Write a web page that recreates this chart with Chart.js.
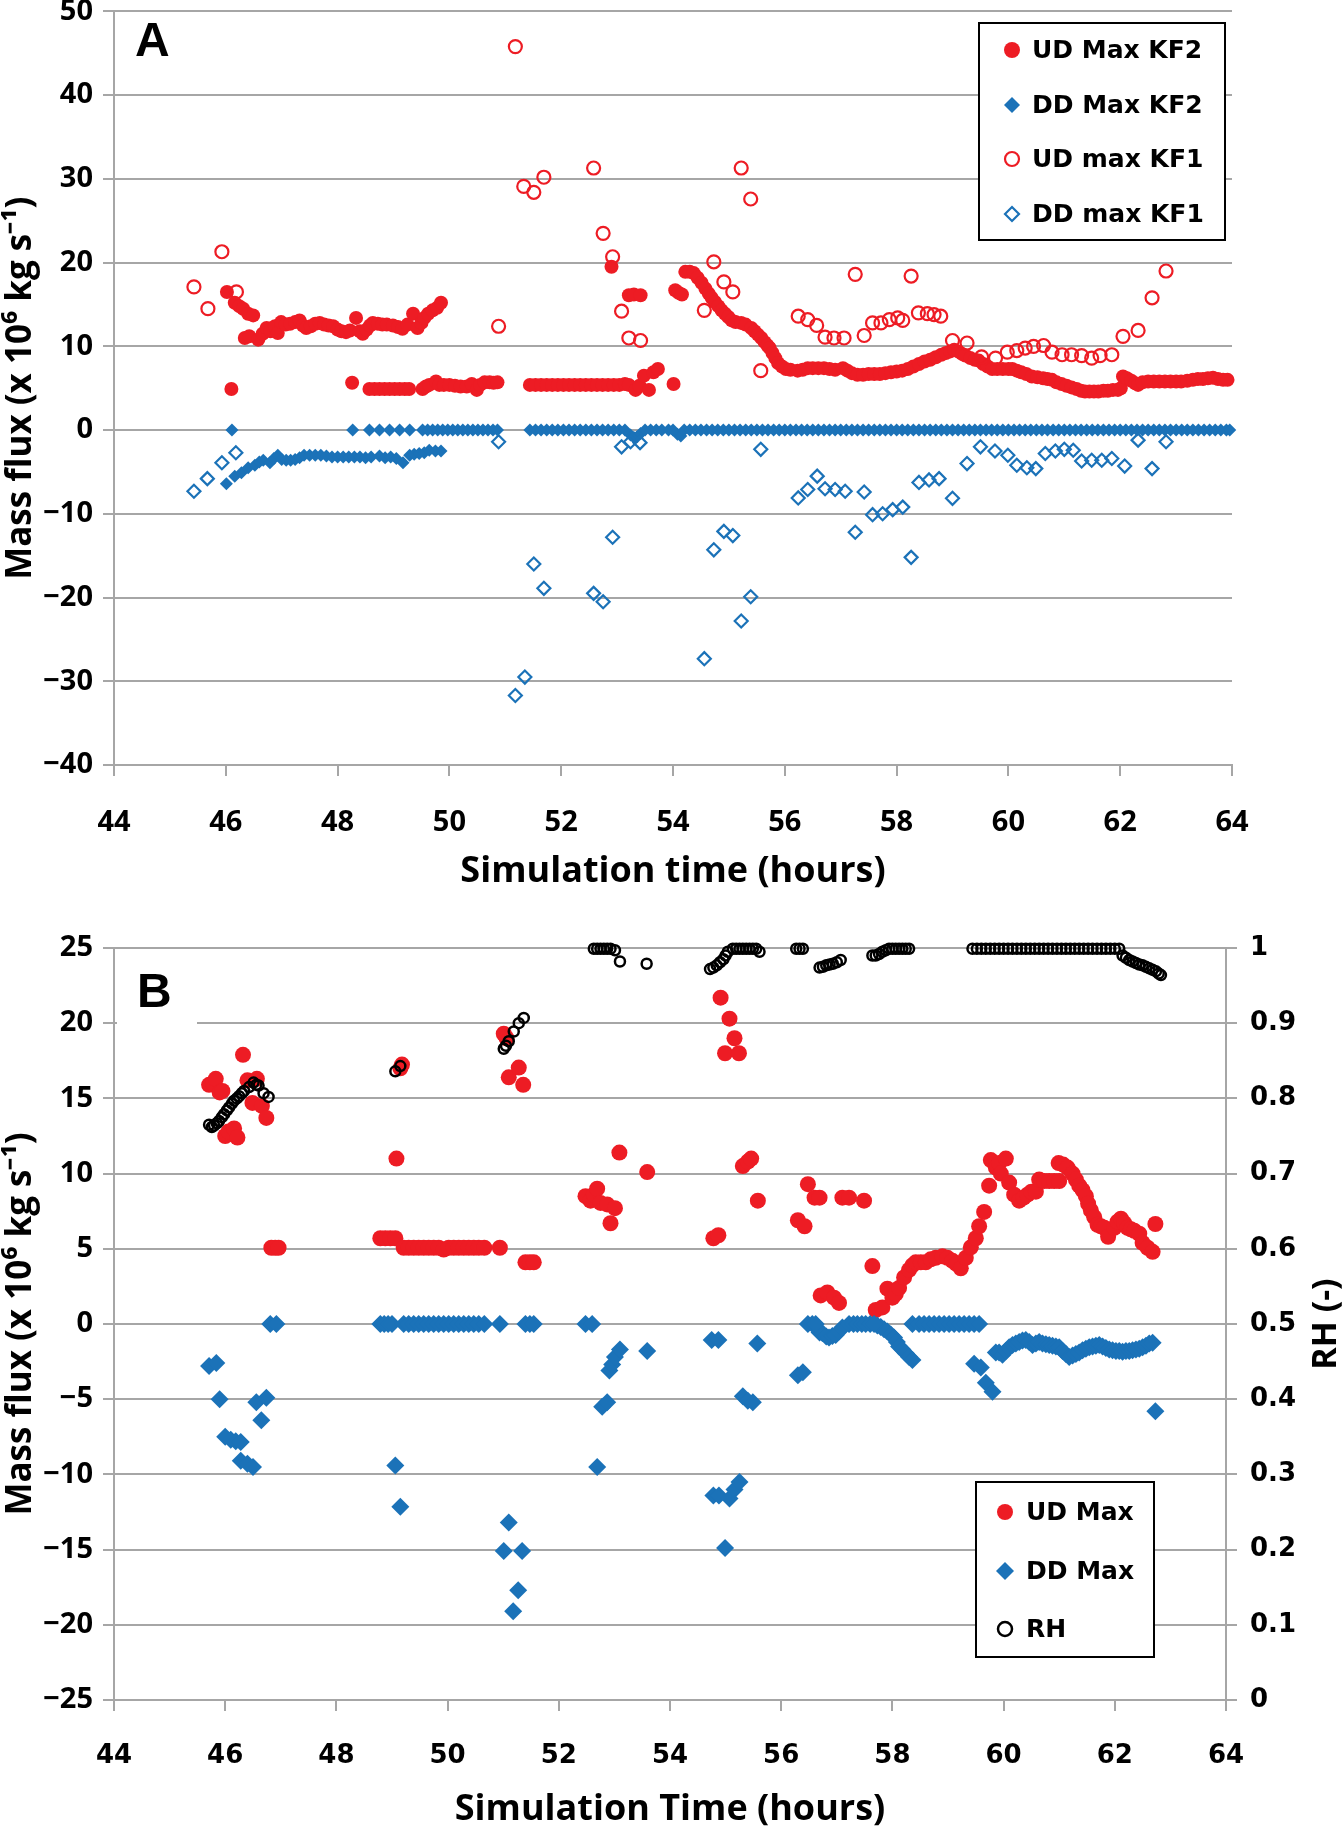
<!DOCTYPE html>
<html>
<head>
<meta charset="utf-8">
<title>Mass flux and RH vs simulation time</title>
<script src="https://cdn.jsdelivr.net/npm/chart.js@4.4.1/dist/chart.umd.min.js"></script>
<style>
  body { margin: 0; background: #fff; }
  #wrap { position: relative; width: 1343px; height: 1833px; }
  canvas { position: absolute; left: 0; }
  #chartA { top: 0; }
  #chartB { top: 930px; }
</style>
</head>
<body>
<div id="wrap">
  <canvas id="chartA" width="1343" height="930"></canvas>
  <canvas id="chartB" width="1343" height="903"></canvas>
</div>
<script>
// ---- tick labels ----
const timeTicks = [44, 46, 48, 50, 52, 54, 56, 58, 60, 62, 64];
const massTicksA = [-40, -30, -20, -10, 0, 10, 20, 30, 40, 50];
const massTicksB = [-25, -20, -15, -10, -5, 0, 5, 10, 15, 20, 25];
const rhTicks = [0, 0.1, 0.2, 0.3, 0.4, 0.5, 0.6, 0.7, 0.8, 0.9, 1];

// ---- panel A : UD Max KF2 ----
const udKF2Time = [
  46.02, 46.10, 46.16, 46.24, 46.31, 46.40, 46.49, 46.34, 46.42, 46.58,
  46.66, 46.73, 46.80, 46.88, 46.93, 46.99, 47.07, 47.15, 47.24, 47.32,
  47.38, 47.44, 47.52, 47.60, 47.68, 47.76, 47.84, 47.92, 48.00, 48.07,
  48.15, 48.22, 48.33, 48.40, 48.45, 48.52, 48.58, 48.63, 48.72, 48.80,
  48.88, 48.99, 49.08, 49.16, 49.25, 49.35, 49.43, 49.50, 49.55, 49.62,
  49.70, 49.78, 49.85, 48.26, 48.57, 48.66, 48.75, 48.84, 48.93, 49.02,
  49.11, 49.20, 49.28, 49.52, 49.58, 49.64, 49.76, 49.82, 49.90, 50.00,
  50.10, 50.20, 50.31, 50.40, 50.49, 50.55, 50.63, 50.72, 50.79, 50.86,
  51.44, 51.54, 51.64, 51.74, 51.84, 51.94, 52.04, 52.14, 52.24, 52.34,
  52.44, 52.54, 52.64, 52.74, 52.84, 52.94, 53.04, 53.14, 53.21, 53.33,
  53.40, 53.48, 53.57, 53.65, 53.73, 54.01, 52.90, 53.21, 53.30, 53.42,
  54.04, 54.10, 54.16, 54.22, 54.30, 54.37, 54.44, 54.51, 54.58, 54.64,
  54.69, 54.75, 54.81, 54.87, 54.93, 54.99, 55.05, 55.12, 55.22, 55.30,
  55.40, 55.46, 55.52, 55.58, 55.64, 55.69, 55.73, 55.78, 55.83, 55.88,
  55.95, 56.02, 56.10, 56.23, 56.32, 56.41, 56.50, 56.60, 56.70, 56.80,
  56.90, 57.04, 57.12, 57.20, 57.30, 57.40, 57.50, 57.60, 57.70, 57.80,
  57.90, 58.00, 58.10, 58.20, 58.30, 58.40, 58.50, 58.60, 58.70, 58.80,
  58.88, 58.96, 59.03, 59.10, 59.17, 59.23, 59.32, 59.40, 59.47, 59.55,
  59.63, 59.71, 59.80, 59.90, 60.00, 60.07, 60.15, 60.23, 60.32, 60.42,
  60.52, 60.62, 60.70, 60.78, 60.86, 60.95, 61.04, 61.13, 61.22, 61.30,
  61.37, 61.45, 61.53, 61.61, 61.70, 61.78, 61.87, 61.96, 62.01, 62.05,
  62.12, 62.20, 62.27, 62.32, 62.40, 62.50, 62.60, 62.70, 62.80, 62.90,
  63.00, 63.09, 63.20, 63.30, 63.39, 63.48, 63.57, 63.66, 63.75, 63.84,
  63.92
];
const udKF2Flux = [
  16.5, 4.9, 15.2, 14.8, 14.5, 13.9, 13.7, 11.0, 11.2, 10.8,
  11.5, 12.2, 11.8, 12.4, 11.6, 12.9, 12.6, 12.7, 12.9, 13.1,
  12.5, 12.2, 12.4, 12.7, 12.8, 12.6, 12.5, 12.4, 12.0, 11.8,
  11.7, 11.9, 13.4, 11.8, 11.5, 12.0, 12.5, 12.8, 12.7, 12.6,
  12.6, 12.5, 12.3, 12.1, 12.6, 13.9, 12.2, 12.8, 13.4, 13.9,
  14.3, 14.6, 15.2, 5.65, 4.9, 4.9, 4.9, 4.9, 4.9, 4.9,
  4.9, 4.9, 4.9, 4.9, 5.2, 5.4, 5.8, 5.4, 5.4, 5.4,
  5.3, 5.2, 5.2, 5.5, 4.8, 5.4, 5.7, 5.7, 5.65, 5.7,
  5.4, 5.4, 5.4, 5.4, 5.4, 5.4, 5.4, 5.4, 5.4, 5.4,
  5.4, 5.4, 5.4, 5.4, 5.4, 5.4, 5.4, 5.5, 5.4, 4.8,
  5.3, 6.5, 4.8, 6.9, 7.3, 5.5, 19.5, 16.1, 16.2, 16.1,
  16.7, 16.4, 16.2, 18.9, 18.9, 18.75, 18.2, 17.6, 16.9, 16.3,
  15.8, 15.3, 14.8, 14.3, 13.9, 13.5, 13.1, 12.9, 12.8, 12.6,
  12.2, 11.8, 11.4, 11.0, 10.5, 10.1, 9.8, 9.2, 8.6, 8.0,
  7.6, 7.3, 7.2, 7.1, 7.2, 7.4, 7.4, 7.4, 7.4, 7.3,
  7.2, 7.4, 7.1, 6.8, 6.6, 6.6, 6.7, 6.7, 6.7, 6.8,
  6.9, 7.0, 7.1, 7.3, 7.6, 7.9, 8.2, 8.4, 8.7, 9.0,
  9.2, 9.4, 9.6, 9.4, 9.1, 8.9, 8.6, 8.4, 8.3, 7.9,
  7.6, 7.3, 7.3, 7.3, 7.3, 7.3, 7.1, 6.9, 6.7, 6.4,
  6.3, 6.2, 6.1, 6.0, 5.7, 5.5, 5.3, 5.1, 4.9, 4.7,
  4.6, 4.6, 4.6, 4.6, 4.7, 4.7, 4.8, 4.8, 5.0, 6.4,
  6.2, 5.9, 5.6, 5.4, 5.7, 5.8, 5.8, 5.8, 5.8, 5.8,
  5.8, 5.8, 5.9, 6.0, 6.1, 6.1, 6.2, 6.25, 6.1, 6.0,
  6.0
];

// ---- panel A : DD Max KF2 (points off the zero line) ----
const ddKF2Time = [
  46.01, 46.16, 46.28, 46.40, 46.52, 46.60, 46.67, 46.79, 46.86, 46.93,
  47.00, 47.08, 47.16, 47.24, 47.32, 47.40, 47.50, 47.60, 47.70, 47.80,
  47.90, 48.00, 48.10, 48.20, 48.30, 48.40, 48.50, 48.60, 48.75, 48.85,
  48.95, 49.05, 49.17, 49.29, 49.37, 49.46, 49.55, 49.64, 49.75, 49.85,
  53.24, 53.30, 53.36, 53.42, 54.08, 54.14
];
const ddKF2Flux = [
  -6.4, -5.5, -5.1, -4.5, -4.2, -3.8, -3.6, -3.9, -3.4, -3.0,
  -3.5, -3.6, -3.6, -3.5, -3.3, -3.0, -3.0, -3.0, -3.0, -3.1,
  -3.2, -3.2, -3.2, -3.2, -3.2, -3.2, -3.3, -3.2, -3.1, -3.3,
  -3.2, -3.4, -3.9, -3.0, -2.9, -2.8, -2.7, -2.4, -2.5, -2.5,
  -0.6, -0.9, -0.8, -0.4, -0.5, -0.7
];
// times where DD Max KF2 sits on 0
const ddKF2ZeroTime = [
  46.11, 48.27, 48.57, 48.75, 48.93, 49.11, 49.29,
  49.52, 49.61, 49.70, 49.79, 49.88, 49.97, 50.06, 50.15, 50.24, 50.33,
  50.42, 50.51, 50.60, 50.69, 50.78, 50.86,
  51.44, 51.54, 51.64, 51.74, 51.84, 51.94, 52.04, 52.14, 52.24, 52.34,
  52.44, 52.54, 52.64, 52.74, 52.84, 52.94, 53.04, 53.14,
  53.50, 53.60, 53.70, 53.80, 53.92, 54.00,
  54.2, 54.3, 54.4, 54.5, 54.6, 54.7, 54.8, 54.9,
  55.0, 55.1, 55.2, 55.3, 55.4, 55.5, 55.6, 55.7, 55.8, 55.9,
  56.0, 56.1, 56.2, 56.3, 56.4, 56.5, 56.6, 56.7, 56.8, 56.9,
  57.0, 57.1, 57.2, 57.3, 57.4, 57.5, 57.6, 57.7, 57.8, 57.9,
  58.0, 58.1, 58.2, 58.3, 58.4, 58.5, 58.6, 58.7, 58.8, 58.9,
  59.0, 59.1, 59.2, 59.3, 59.4, 59.5, 59.6, 59.7, 59.8, 59.9,
  60.0, 60.1, 60.2, 60.3, 60.4, 60.5, 60.6, 60.7, 60.8, 60.9,
  61.0, 61.1, 61.2, 61.3, 61.4, 61.5, 61.6, 61.7, 61.8, 61.9,
  62.0, 62.1, 62.2, 62.3, 62.4, 62.5, 62.6, 62.7, 62.8, 62.9,
  63.0, 63.1, 63.2, 63.3, 63.4, 63.5, 63.6, 63.7, 63.8, 63.9, 63.96
];

// ---- panel A : UD max KF1 ----
const udKF1Time = [
  45.43, 45.68, 45.93, 46.19, 50.88, 51.18, 51.33, 51.51, 51.69, 52.58,
  52.75, 52.92, 53.08, 53.21, 53.42, 54.56, 54.73, 54.91, 55.07, 55.22,
  55.39, 55.57, 56.24, 56.41, 56.57, 56.72, 56.88, 57.06, 57.26, 57.42,
  57.57, 57.72, 57.87, 58.02, 58.11, 58.26, 58.39, 58.55, 58.67, 58.79,
  59.00, 59.26, 59.52, 59.77, 59.98, 60.15, 60.30, 60.45, 60.63, 60.78,
  60.96, 61.13, 61.31, 61.49, 61.64, 61.85, 62.05, 62.32, 62.57, 62.82
];
const udKF1Flux = [
  17.1, 14.5, 21.3, 16.5, 12.4, 45.8, 29.1, 28.4, 30.2, 31.3,
  23.5, 20.7, 14.2, 11.0, 10.7, 14.3, 20.1, 17.7, 16.5, 31.3,
  27.6, 7.1, 13.6, 13.2, 12.5, 11.1, 11.0, 11.0, 18.6, 11.3,
  12.8, 12.8, 13.2, 13.4, 13.1, 18.4, 14.0, 13.9, 13.8, 13.6,
  10.7, 10.4, 8.75, 8.6, 9.3, 9.5, 9.8, 10.0, 10.1, 9.3,
  9.0, 9.0, 8.9, 8.6, 8.9, 9.0, 11.2, 11.9, 15.8, 19.0
];

// ---- panel A : DD max KF1 ----
const ddKF1Time = [
  45.43, 45.67, 45.93, 46.18, 50.88, 51.18, 51.35, 51.51, 51.69, 52.58,
  52.75, 52.92, 53.08, 53.24, 53.41, 54.56, 54.73, 54.91, 55.07, 55.22,
  55.39, 55.57, 56.24, 56.41, 56.58, 56.72, 56.90, 57.08, 57.26, 57.42,
  57.57, 57.75, 57.93, 58.11, 58.26, 58.40, 58.58, 58.76, 59.00, 59.26,
  59.50, 59.76, 59.99, 60.15, 60.33, 60.49, 60.66, 60.84, 61.00, 61.16,
  61.31, 61.49, 61.67, 61.85, 62.08, 62.32, 62.57, 62.82
];
const ddKF1Flux = [
  -7.3, -5.8, -3.9, -2.7, -1.4, -31.7, -29.5, -16.0, -18.9, -19.5,
  -20.5, -12.8, -2.0, -1.4, -1.5, -27.3, -14.3, -12.1, -12.6, -22.8,
  -19.9, -2.3, -8.1, -7.1, -5.5, -7.0, -7.1, -7.3, -12.2, -7.4,
  -10.1, -10.0, -9.5, -9.2, -15.2, -6.25, -5.95, -5.8, -8.15, -4.0,
  -2.0, -2.5, -3.0, -4.2, -4.5, -4.6, -2.8, -2.5, -2.3, -2.4,
  -3.7, -3.6, -3.6, -3.4, -4.3, -1.2, -4.6, -1.4
];

// ---- panel B : UD Max ----
const udTime = [
  45.71, 45.78, 45.83, 45.90, 45.95, 46.00, 46.06, 46.16, 46.22, 46.32,
  46.40, 46.49, 46.57, 46.66, 46.74, 46.83, 46.90, 46.96, 48.79, 48.88,
  48.97, 49.06, 49.08, 49.15, 49.18, 49.21, 49.30, 49.39, 49.48, 49.57,
  49.66, 49.75, 49.84, 49.93, 50.02, 50.11, 50.20, 50.29, 50.38, 50.47,
  50.56, 50.66, 50.94, 51.40, 51.48, 51.55, 51.01, 51.06, 51.10, 51.28,
  51.36, 52.48, 52.57, 52.63, 52.69, 52.75, 52.87, 52.93, 53.01, 53.09,
  53.59, 54.78, 54.87, 54.91, 55.07, 55.16, 54.99, 55.24, 55.31, 55.40,
  55.46, 55.58, 56.30, 56.42, 56.48, 56.60, 56.69, 56.71, 56.83, 56.95,
  57.04, 57.10, 57.22, 57.49, 57.64, 57.70, 57.82, 57.91, 58.00, 58.06,
  58.12, 58.21, 58.30, 58.36, 58.42, 58.51, 58.60, 58.69, 58.78, 58.90,
  58.99, 59.08, 59.15, 59.23, 59.32, 59.41, 59.50, 59.56, 59.65, 59.74,
  59.77, 59.86, 59.92, 59.95, 60.04, 60.10, 60.19, 60.28, 60.36, 60.43,
  60.50, 60.58, 60.64, 60.73, 60.82, 60.91, 61.00, 60.99, 61.07, 61.15,
  61.24, 61.30, 61.36, 61.42, 61.48, 61.52, 61.57, 61.63, 61.69, 61.75,
  61.81, 61.88, 61.99, 62.05, 62.11, 62.17, 62.23, 62.29, 62.35, 62.44,
  62.50, 62.59, 62.68, 62.73
];
const udFlux = [
  15.9, 16.0, 16.3, 15.4, 15.5, 12.5, 12.8, 13.0, 12.4, 17.9,
  16.2, 14.7, 16.3, 14.5, 13.7, 5.07, 5.07, 5.07, 5.7, 5.7,
  5.7, 5.7, 11.0, 17.0, 17.25, 5.07, 5.07, 5.07, 5.07, 5.07,
  5.07, 5.07, 5.07, 4.95, 5.07, 5.07, 5.07, 5.07, 5.07, 5.07,
  5.07, 5.07, 5.07, 4.1, 4.1, 4.1, 19.3, 19.0, 16.4, 17.05,
  15.9, 8.5, 8.2, 8.6, 9.0, 8.05, 7.95, 6.7, 7.7, 11.4,
  10.1, 5.7, 5.9, 21.7, 20.3, 19.0, 18.0, 18.0, 10.5, 10.8,
  11.0, 8.2, 6.9, 6.5, 9.3, 8.4, 8.4, 1.9, 2.1, 1.75,
  1.4, 8.4, 8.4, 8.2, 3.85, 0.93, 1.1, 2.35, 1.75, 2.0,
  2.4, 3.1, 3.6, 3.9, 4.1, 4.1, 4.1, 4.3, 4.4, 4.5,
  4.4, 4.2, 4.0, 3.7, 4.4, 5.1, 5.7, 6.5, 7.45, 9.2,
  10.9, 10.4, 10.7, 10.0, 11.0, 9.4, 8.6, 8.2, 8.4, 8.6,
  8.8, 8.8, 9.6, 9.5, 9.5, 9.5, 9.5, 10.7, 10.6, 10.4,
  10.0, 9.6, 9.2, 8.9, 8.5, 8.0, 7.55, 7.1, 6.6, 6.5,
  6.4, 5.8, 6.4, 6.8, 7.0, 6.7, 6.4, 6.3, 6.2, 6.0,
  5.4, 5.07, 4.8, 6.65
];

// ---- panel B : DD Max ----
const ddTime = [
  45.71, 45.84, 45.90, 46.00, 46.10, 46.19, 46.28, 46.28, 46.40, 46.50,
  46.56, 46.65, 46.74, 46.81, 46.92, 49.06, 49.15, 51.01, 51.10, 51.34,
  51.27, 51.18, 52.69, 52.78, 52.87, 52.91, 52.96, 53.01, 53.10, 53.59,
  54.75, 54.87, 54.78, 54.88, 55.07, 55.16, 55.25, 54.99, 55.31, 55.40,
  55.49, 55.57, 56.30, 56.39, 56.69, 56.74, 56.81, 56.86, 56.92, 56.98,
  57.04, 57.10, 57.73, 57.79, 57.85, 57.91, 57.97, 58.03, 58.08, 58.12,
  58.18, 58.24, 58.30, 58.36, 59.47, 59.59, 59.68, 59.80, 59.86, 59.92,
  59.98, 60.04, 60.10, 60.16, 60.22, 60.28, 60.34, 60.40, 60.46, 60.52,
  60.58, 60.64, 60.70, 60.76, 60.82, 60.88, 60.94, 61.00, 61.06, 61.12,
  61.18, 61.24, 61.30, 61.36, 61.42, 61.48, 61.54, 61.60, 61.66, 61.72,
  61.78, 61.84, 61.90, 61.96, 62.02, 62.08, 62.14, 62.20, 62.26, 62.32,
  62.38, 62.44, 62.50, 62.56, 62.62, 62.68, 62.73
];
const ddFlux = [
  -2.8, -2.6, -5.0, -7.5, -7.7, -7.8, -7.85, -9.1, -9.3, -9.5,
  -5.2, -6.4, -4.9, 0, 0, -9.4, -12.15, -15.1, -13.2, -15.1,
  -17.7, -19.1, -9.5, -5.5, -5.2, -3.1, -2.7, -2.2, -1.7, -1.8,
  -1.06, -1.06, -11.4, -11.4, -11.6, -11.0, -10.5, -14.9, -4.8, -5.1,
  -5.2, -1.3, -3.4, -3.2, -0.56, -0.6, -0.83, -0.9, -0.8, -0.73,
  -0.5, -0.23, -0.1, -0.2, -0.35, -0.5, -0.7, -0.9, -1.2, -1.5,
  -1.7, -1.95, -2.2, -2.4, -2.65, -2.9, -3.9, -4.5, -1.9, -1.9,
  -2.05, -1.8, -1.55, -1.4, -1.3, -1.2, -1.1, -1.06, -1.2, -1.4,
  -1.3, -1.2, -1.3, -1.35, -1.4, -1.45, -1.5, -1.55, -1.8, -2.0,
  -2.2, -2.1, -2.0, -1.9, -1.75, -1.65, -1.55, -1.5, -1.45, -1.4,
  -1.5, -1.6, -1.7, -1.75, -1.8, -1.8, -1.85, -1.8, -1.8, -1.75,
  -1.7, -1.65, -1.55, -1.45, -1.3, -1.25, -5.8
];
// times where DD Max sits on 0
const ddZeroTime = [
  48.79, 48.86, 48.93, 49.00, 49.21, 49.30, 49.39, 49.48, 49.57, 49.66,
  49.75, 49.84, 49.93, 50.02, 50.11, 50.20, 50.29, 50.38, 50.47, 50.56,
  50.66, 50.94, 51.40, 51.48, 51.55, 52.48, 52.60, 56.48, 56.56, 56.62,
  57.22, 57.30, 57.37, 57.45, 57.52, 57.60, 57.67, 58.36, 58.48, 58.57,
  58.66, 58.75, 58.84, 58.93, 59.02, 59.11, 59.20, 59.29, 59.38, 59.47,
  59.56
];

// ---- panel B : RH ----
const rhTime = [
  45.71, 45.76, 45.80, 45.85, 45.89, 45.94, 45.98, 46.03, 46.07, 46.12,
  46.16, 46.21, 46.25, 46.30, 46.34, 46.43, 46.51, 46.56, 46.60, 46.69,
  46.78, 49.06, 49.15, 51.01, 51.05, 51.10, 51.19, 51.28, 51.37, 52.63,
  52.69, 52.75, 52.81, 52.87, 52.93, 53.01, 53.10, 53.58, 54.72, 54.78,
  54.84, 54.90, 54.96, 55.00, 55.04, 55.13, 55.19, 55.25, 55.31, 55.37,
  55.43, 55.49, 55.55, 55.61, 56.27, 56.33, 56.39, 56.69, 56.75, 56.81,
  56.87, 56.93, 57.00, 57.07, 57.64, 57.70, 57.76, 57.82, 57.88, 57.94,
  58.00, 58.06, 58.12, 58.18, 58.24, 58.30, 59.44, 59.52, 59.60, 59.68,
  59.76, 59.84, 59.92, 60.00, 60.08, 60.16, 60.24, 60.32, 60.40, 60.48,
  60.56, 60.64, 60.72, 60.80, 60.88, 60.96, 61.04, 61.12, 61.20, 61.28,
  61.36, 61.44, 61.52, 61.60, 61.68, 61.76, 61.84, 61.92, 62.00, 62.08,
  62.14, 62.20, 62.26, 62.32, 62.38, 62.44, 62.50, 62.56, 62.62, 62.68,
  62.74, 62.79, 62.83
];
const rhValue = [
  0.765, 0.762, 0.764, 0.767, 0.770, 0.775, 0.779, 0.784, 0.788, 0.793,
  0.797, 0.800, 0.803, 0.807, 0.810, 0.815, 0.821, 0.818, 0.817, 0.807,
  0.802, 0.836, 0.843, 0.866, 0.870, 0.876, 0.889, 0.900, 0.907, 0.999,
  0.999, 0.999, 0.999, 0.999, 0.999, 0.997, 0.982, 0.979, 0.972, 0.974,
  0.977, 0.981, 0.985, 0.990, 0.995, 0.999, 0.999, 0.999, 0.999, 0.999,
  0.999, 0.999, 0.999, 0.995, 0.999, 0.999, 0.999, 0.974, 0.975, 0.977,
  0.978, 0.979, 0.981, 0.984, 0.990, 0.990, 0.992, 0.995, 0.997, 0.999,
  0.999, 0.999, 0.999, 0.999, 0.999, 0.999, 0.999, 0.999, 0.999, 0.999,
  0.999, 0.999, 0.999, 0.999, 0.999, 0.999, 0.999, 0.999, 0.999, 0.999,
  0.999, 0.999, 0.999, 0.999, 0.999, 0.999, 0.999, 0.999, 0.999, 0.999,
  0.999, 0.999, 0.999, 0.999, 0.999, 0.999, 0.999, 0.999, 0.999, 0.999,
  0.990, 0.987, 0.984, 0.982, 0.980, 0.978, 0.977, 0.975, 0.973, 0.971,
  0.969, 0.966, 0.964
];

// ---- styling ----
const RED = '#ed1c24';
const BLUE = '#1b72b8';
const GRID = '#a6a6a6';
const NONE = 'rgba(255,255,255,0)';
// tiny lineHeight keeps the vertical axes from padding the plot top
const TICK_FONT = { family: '"Open Sans", sans-serif', weight: 'bold', size: 29, lineHeight: 0.1 };
const WIDE_FONT = { family: '"DejaVu Sans", sans-serif', weight: 'bold', size: 26 };
const TITLE_FONT = { family: '"Open Sans", sans-serif', weight: 'bold', size: 35 };
const MASS_TITLE = 'Mass flux (x 10\u2076 kg s\u207B\u00B9)';

const toPts = (t, v) => t.map((x, i) => ({ x: x, y: v[i] }));
const onZero = t => t.map(x => ({ x: x, y: 0 }));
const minus = v => (v < 0 ? '\u2212' + Math.abs(v) : String(v));

// letter, legend box and rotated RH title
const overlay = {
  id: 'overlay',
  beforeDatasetsDraw(chart, args, o) {
    const ctx = chart.ctx;
    ctx.save();
    if (o.letterBg) {
      ctx.fillStyle = '#fff';
      ctx.fillRect(o.letterBg[0], o.letterBg[1], o.letterBg[2], o.letterBg[3]);
    }
    ctx.font = 'bold 48px "Liberation Sans", Arial, sans-serif';
    ctx.fillStyle = '#000';
    ctx.textBaseline = 'middle';
    ctx.fillText(o.letter, o.letterX, o.letterY);
    ctx.restore();
  },
  afterDraw(chart, args, o) {
    const ctx = chart.ctx;
    const lg = o.legend;
    ctx.save();
    ctx.fillStyle = '#fff';
    ctx.fillRect(lg.x, lg.y, lg.w, lg.h);
    ctx.strokeStyle = '#000';
    ctx.lineWidth = 2;
    ctx.strokeRect(lg.x, lg.y, lg.w, lg.h);
    ctx.font = 'bold 25px "DejaVu Sans", sans-serif';
    ctx.textBaseline = 'middle';
    chart.data.datasets.forEach((ds, i) => {
      const y = lg.rows[i];
      const x = lg.markerX;
      const r = lg.radius[i];
      ctx.beginPath();
      if (ds.pointStyle === 'circle') {
        ctx.arc(x, y, r, 0, Math.PI * 2);
      } else {
        ctx.moveTo(x - r, y); ctx.lineTo(x, y - r); ctx.lineTo(x + r, y); ctx.lineTo(x, y + r); ctx.closePath();
      }
      if (ds.backgroundColor !== NONE) { ctx.fillStyle = ds.backgroundColor; ctx.fill(); }
      else { ctx.strokeStyle = ds.borderColor; ctx.lineWidth = ds.borderWidth; ctx.stroke(); }
      ctx.fillStyle = '#000';
      ctx.fillText(ds.label, lg.textX, y + 1);
    });
    if (o.rhTitle) {
      const ca = chart.chartArea;
      ctx.translate(o.rhTitle.x, (ca.top + ca.bottom) / 2);
      ctx.rotate(-Math.PI / 2);
      ctx.textAlign = 'center';
      ctx.font = 'bold 34px "Open Sans", sans-serif';
      ctx.fillText(o.rhTitle.text, 0, 0);
    }
    ctx.restore();
  }
};

function timeAxis(height, tickFont, pad, title, titleBottom) {
  return {
    type: 'linear', min: 44, max: 64,
    afterBuildTicks: s => { s.ticks = timeTicks.map(v => ({ value: v })); },
    afterFit: s => { s.height = height; },
    grid: { drawOnChartArea: false, drawTicks: true, tickLength: 11, color: GRID, lineWidth: 2 },
    border: { color: GRID, width: 2 },
    ticks: { color: '#000', padding: pad, font: tickFont, maxRotation: 0 },
    title: { display: true, text: title, color: '#000',
      font: { family: '"Open Sans", sans-serif', weight: 'bold', size: 36 },
      padding: { top: 0, bottom: titleBottom } }
  };
}

function massAxis(min, max, list, width) {
  return {
    type: 'linear', position: 'left', min: min, max: max,
    afterBuildTicks: s => { s.ticks = list.map(v => ({ value: v })); },
    afterFit: s => { s.width = width; },
    grid: { color: GRID, lineWidth: 2, tickLength: 11, drawTicks: true },
    border: { color: GRID, width: 2 },
    ticks: { color: '#000', padding: 10, font: TICK_FONT, callback: minus },
    title: { display: true, text: MASS_TITLE, color: '#000', font: TITLE_FONT, padding: { top: 0, bottom: 0 } }
  };
}

// Panel A
new Chart(document.getElementById('chartA'), {
  type: 'scatter',
  data: {
    datasets: [
      { label: 'UD Max KF2', data: toPts(udKF2Time, udKF2Flux), pointStyle: 'circle', pointRadius: 7,
        backgroundColor: RED, borderColor: RED, borderWidth: 0, order: 4 },
      { label: 'DD Max KF2', data: toPts(ddKF2Time, ddKF2Flux).concat(onZero(ddKF2ZeroTime)), pointStyle: 'rectRot',
        pointRadius: 6.5, backgroundColor: BLUE, borderColor: BLUE, borderWidth: 0, order: 3 },
      { label: 'UD max KF1', data: toPts(udKF1Time, udKF1Flux), pointStyle: 'circle', pointRadius: 6.5,
        backgroundColor: NONE, borderColor: RED, borderWidth: 2.2, order: 2 },
      { label: 'DD max KF1', data: toPts(ddKF1Time, ddKF1Flux), pointStyle: 'rectRot', pointRadius: 6.5,
        backgroundColor: NONE, borderColor: BLUE, borderWidth: 2.2, order: 1 }
    ]
  },
  options: {
    responsive: false, animation: false, devicePixelRatio: 1, events: [],
    layout: { padding: { top: 11, right: 111, left: 0, bottom: 0 } },
    datasets: { scatter: { clip: 12 } },
    scales: {
      x: timeAxis(165, { family: '"Open Sans", sans-serif', weight: 'bold', size: 29 }, 29, 'Simulation time (hours)', 37),
      y: massAxis(-40, 50, massTicksA, 114)
    },
    plugins: {
      legend: { display: false }, tooltip: { enabled: false },
      overlay: {
        letter: 'A', letterX: 135, letterY: 43,
        legend: { x: 979, y: 23, w: 246, h: 217, rows: [50, 105, 159, 214], markerX: 1012, textX: 1032,
          radius: [8, 8, 7, 7] }
      }
    }
  },
  plugins: [overlay]
});

// Panel B
new Chart(document.getElementById('chartB'), {
  type: 'scatter',
  data: {
    datasets: [
      { label: 'UD Max', data: toPts(udTime, udFlux), yAxisID: 'y', pointStyle: 'circle', pointRadius: 8,
        backgroundColor: RED, borderColor: RED, borderWidth: 0, order: 3 },
      { label: 'DD Max', data: toPts(ddTime, ddFlux).concat(onZero(ddZeroTime)), yAxisID: 'y', pointStyle: 'rectRot',
        pointRadius: 9, backgroundColor: BLUE, borderColor: BLUE, borderWidth: 0, order: 2 },
      { label: 'RH', data: toPts(rhTime, rhValue), yAxisID: 'y2', pointStyle: 'circle', pointRadius: 5,
        backgroundColor: NONE, borderColor: '#000', borderWidth: 2.5, order: 1 }
    ]
  },
  options: {
    responsive: false, animation: false, devicePixelRatio: 1, events: [],
    layout: { padding: { top: 18, right: 0, left: 0, bottom: 0 } },
    datasets: { scatter: { clip: 12 } },
    scales: {
      x: timeAxis(133, WIDE_FONT, 30, 'Simulation Time (hours)', 2),
      y: massAxis(-25, 25, massTicksB, 114),
      y2: {
        type: 'linear', position: 'right', min: 0, max: 1,
        afterBuildTicks: s => { s.ticks = rhTicks.map(v => ({ value: v })); },
        afterFit: s => { s.width = 117; },
        grid: { drawOnChartArea: false, drawTicks: true, tickLength: 11, color: GRID, lineWidth: 2 },
        border: { color: GRID, width: 2 },
        ticks: { color: '#000', padding: 13, font: Object.assign({}, WIDE_FONT, { lineHeight: 0.1 }),
          callback: v => (v === 0 || v === 1 ? String(v) : v.toFixed(1)) },
        title: { display: false }
      }
    },
    plugins: {
      legend: { display: false }, tooltip: { enabled: false },
      overlay: {
        letter: 'B', letterX: 137, letterY: 64, letterBg: [117, 30, 80, 64],
        legend: { x: 976, y: 552, w: 178, h: 175, rows: [582, 641, 699], markerX: 1005, textX: 1026,
          radius: [8, 9, 7] },
        rhTitle: { x: 1326, text: 'RH (-)' }
      }
    }
  },
  plugins: [overlay]
});
</script>
</body>
</html>
